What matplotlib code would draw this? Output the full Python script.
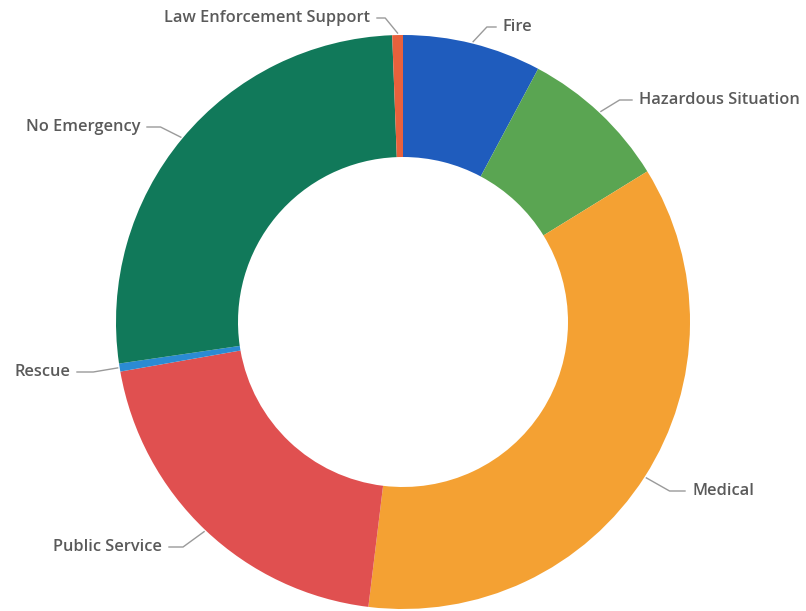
import numpy as np
import matplotlib
matplotlib.use('Agg')
import matplotlib.pyplot as plt

# Incident types, in clockwise order starting at twelve o'clock
categories = ['Fire', 'Hazardous Situation', 'Medical', 'Public Service',
              'Rescue', 'No Emergency', 'Law Enforcement Support']
shares = [7.8, 8.4, 35.7, 20.3, 0.45, 26.7, 0.6]
colors = ['#1f5cbd', '#5aa552', '#f4a133', '#e05050',
          '#2b8bd3', '#11795a', '#e8613c']

# label anchor (x, y in pixels from top-left) and alignment
label_pos = {
    'Fire': (503, 27, 'left'),
    'Hazardous Situation': (639, 100, 'left'),
    'Medical': (692, 491, 'left'),
    'Public Service': (162, 547, 'right'),
    'Rescue': (70, 372, 'right'),
    'No Emergency': (140, 127, 'right'),
    'Law Enforcement Support': (370, 18, 'right'),
}

W, H = 806, 611
cx, cy = 403, 322
r_out, r_in = 287, 165

fig = plt.figure(figsize=(W / 100, H / 100), dpi=100)
ax = fig.add_axes([0, 0, 1, 1])
ax.axis('off')

wedges, _ = ax.pie(shares, colors=colors, startangle=90, counterclock=False,
                   center=(cx, H - cy), radius=r_out,
                   wedgeprops=dict(width=r_out - r_in, linewidth=0))
ax.set_xlim(0, W)
ax.set_ylim(0, H)
ax.set_aspect('equal')

for w, name in zip(wedges, categories):
    mid = np.deg2rad((w.theta1 + w.theta2) / 2)
    x0 = cx + (r_out + 2) * np.cos(mid)
    y0 = (H - cy) + (r_out + 2) * np.sin(mid)
    tx, ty, ha = label_pos[name]
    ty = H - ty
    gap = 7 if ha == 'left' else -7
    x1 = x0 + 0.6 * (tx - gap - x0)
    ax.plot([x0, x1, tx - gap], [y0, ty, ty], color='#9a9a9a', lw=1,
            solid_joinstyle='round')
    ax.text(tx, ty, name, ha=ha, va='center', fontsize=11.8,
            fontweight='semibold', color='#5a5a5a',
            family=['Open Sans', 'DejaVu Sans'])

fig.savefig('out.png', dpi=100, facecolor='white')
